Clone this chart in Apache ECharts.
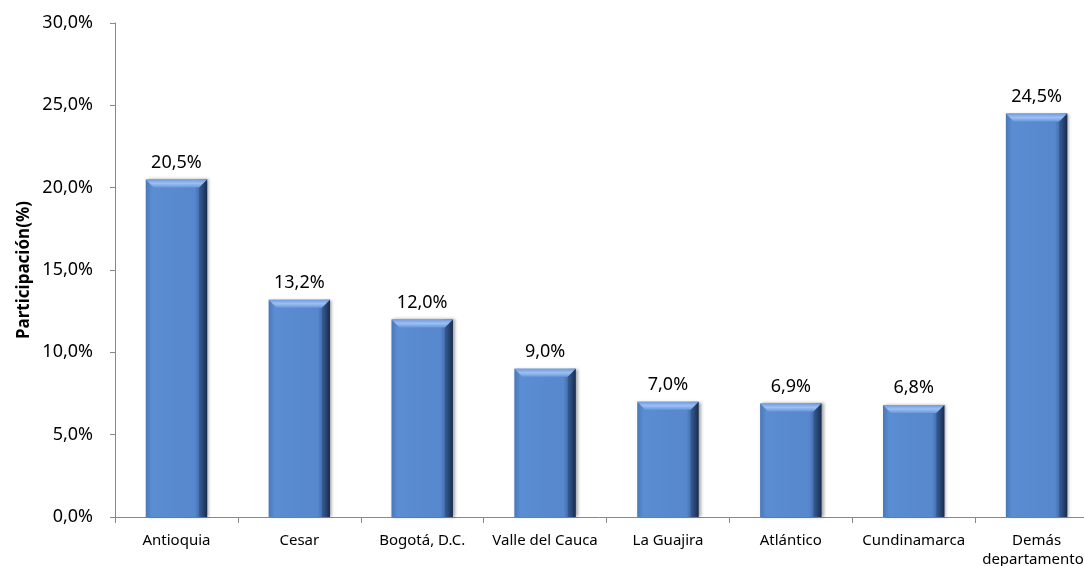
<!DOCTYPE html>
<html>
<head>
    <meta charset="UTF-8">
    <title>Participación por departamento</title>
    <script src="https://cdn.jsdelivr.net/npm/echarts@6/dist/echarts.min.js"></script>
    <style>
        html, body { margin: 0; padding: 0; background: #fff; }
        #chart { width: 1084px; height: 566px; }
    </style>
</head>
<body>
    <div id="chart"></div>
    <script>
        // datos
        var departamentos = ['Antioquia', 'Cesar', 'Bogotá, D.C.', 'Valle del Cauca', 'La Guajira', 'Atlántico', 'Cundinamarca', 'Demás\ndepartamentos'];
        var participacion = [20.5, 13.2, 12.0, 9.0, 7.0, 6.9, 6.8, 24.5];
        var ejeY = { min: 0, max: 30, interval: 5 };

        function pct(v) {
            return v.toFixed(1).replace('.', ',') + '%';
        }

        var chart = echarts.init(document.getElementById('chart'), null, {renderer: 'canvas'});

        // barra con bisel estilo Excel
        function renderBar(params, api) {
            var idx = api.value(0);
            var val = api.value(1);
            var top = api.coord([idx, val]);
            var base = api.coord([idx, 0]);
            var w = api.size([1, 0])[0] * 0.5;
            var x0 = top[0] - w / 2;
            var x1 = top[0] + w / 2;
            var y0 = top[1];
            var y1 = base[1];
            var b = 8;
            return {
                type: 'group',
                children: [
                    {
                        type: 'rect',
                        shape: { x: x0, y: y0, width: w, height: y1 - y0 },
                        style: {
                            fill: new echarts.graphic.LinearGradient(0, 0, 1, 0, [
                                { offset: 0, color: '#4a78b8' },
                                { offset: 0.1, color: '#5a8dd2' },
                                { offset: 0.8, color: '#5787cd' },
                                { offset: 0.9, color: '#3d66a4' },
                                { offset: 1, color: '#1b2f52' }
                            ]),
                            shadowBlur: 3,
                            shadowColor: 'rgba(0,0,0,0.35)',
                            shadowOffsetX: 2
                        }
                    },
                    {
                        type: 'polygon',
                        shape: { points: [[x0, y0], [x1, y0], [x1 - b, y0 + b], [x0 + b, y0 + b]] },
                        style: {
                            fill: new echarts.graphic.LinearGradient(0, 0, 0, 1, [
                                { offset: 0, color: '#6f9be0' },
                                { offset: 0.5, color: '#9cc0f2' },
                                { offset: 1, color: '#6a98da' }
                            ])
                        }
                    },
                    {
                        type: 'polygon',
                        shape: { points: [[x1, y0], [x1 - b, y0 + b], [x1 - b, y1], [x1, y1]] },
                        style: { fill: 'rgba(20,35,65,0.3)' }
                    },
                    {
                        type: 'text',
                        style: {
                            text: pct(val),
                            x: top[0],
                            y: y0 - 8,
                            align: 'center',
                            verticalAlign: 'bottom',
                            fill: '#000',
                            font: '18px "Noto Sans"'
                        }
                    }
                ]
            };
        }

        var option = {
            animation: false,
            backgroundColor: '#fff',
            grid: { left: 115, right: -14, top: 23, bottom: 49, containLabel: false, outerBoundsMode: 'none' },
            xAxis: {
                type: 'category',
                data: departamentos,
                axisLine: { lineStyle: { color: '#888' } },
                axisTick: { show: true, interval: 0, length: 6, lineStyle: { color: '#888' } },
                axisLabel: {
                    interval: 0,
                    margin: 14,
                    color: '#000',
                    fontFamily: 'Noto Sans',
                    fontSize: 15,
                    lineHeight: 19
                }
            },
            yAxis: {
                type: 'value',
                min: ejeY.min,
                max: ejeY.max,
                interval: ejeY.interval,
                name: 'Participación(%)',
                nameLocation: 'middle',
                nameGap: 82,
                nameMoveOverlap: false,
                nameTextStyle: { color: '#000', fontFamily: 'Noto Sans', fontSize: 17, fontWeight: 'bold' },
                axisLine: { show: true, lineStyle: { color: '#888' } },
                axisTick: { show: true, length: 5, lineStyle: { color: '#888' } },
                splitLine: { show: false },
                axisLabel: {
                    margin: 22,
                    color: '#000',
                    fontFamily: 'Noto Sans',
                    fontSize: 18,
                    formatter: function (v) { return pct(v); }
                }
            },
            series: [{
                type: 'custom',
                renderItem: renderBar,
                encode: { x: 0, y: 1 },
                data: participacion.map(function (v, i) { return [i, v]; })
            }]
        };

        chart.setOption(option);
    </script>
</body>
</html>
